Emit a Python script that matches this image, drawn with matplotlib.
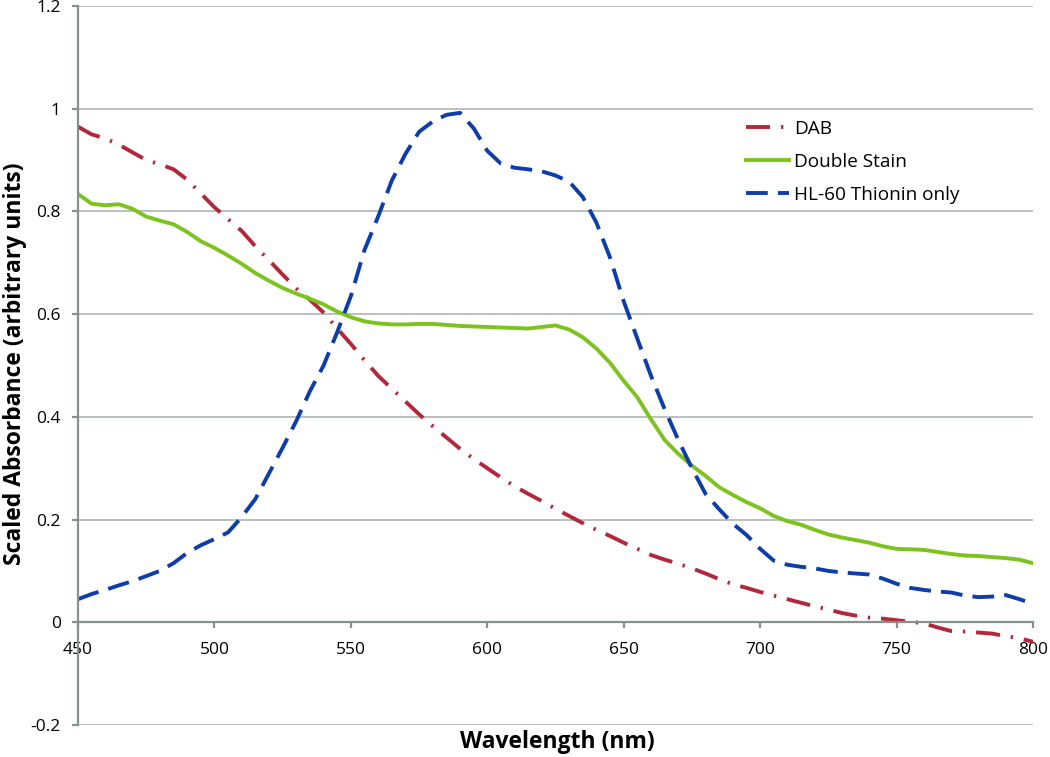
import matplotlib
matplotlib.use('Agg')
import matplotlib.pyplot as plt

# ---------------- data ----------------
wavelength = list(range(450, 801, 5))

dab = [0.965, 0.950, 0.942, 0.930, 0.915, 0.900, 0.892, 0.882, 0.862, 0.835,
       0.808, 0.785, 0.762, 0.732, 0.705, 0.677, 0.650, 0.628, 0.603, 0.572,
       0.542, 0.510, 0.480, 0.455, 0.430, 0.405, 0.382, 0.360, 0.338, 0.318,
       0.300, 0.282, 0.265, 0.250, 0.236, 0.221, 0.207, 0.193, 0.180, 0.168,
       0.155, 0.143, 0.131, 0.122, 0.114, 0.105, 0.095, 0.084, 0.074, 0.067,
       0.059, 0.052, 0.045, 0.038, 0.031, 0.025, 0.018, 0.013, 0.009, 0.007,
       0.004, 0.001, -0.002, -0.010, -0.017, -0.018, -0.020, -0.022, -0.027, -0.031,
       -0.038]

double_stain = [0.834, 0.815, 0.812, 0.814, 0.805, 0.790, 0.782, 0.775, 0.760, 0.742,
                0.729, 0.714, 0.698, 0.680, 0.665, 0.651, 0.640, 0.630, 0.619, 0.605,
                0.594, 0.586, 0.582, 0.580, 0.580, 0.581, 0.581, 0.579, 0.577, 0.576,
                0.575, 0.574, 0.573, 0.572, 0.575, 0.578, 0.570, 0.555, 0.533, 0.505,
                0.470, 0.438, 0.395, 0.355, 0.328, 0.305, 0.285, 0.263, 0.248, 0.234,
                0.222, 0.207, 0.197, 0.190, 0.180, 0.171, 0.165, 0.160, 0.155, 0.148,
                0.143, 0.142, 0.141, 0.137, 0.133, 0.130, 0.129, 0.127, 0.125, 0.122,
                0.115]

hl60 = [0.045, 0.055, 0.063, 0.072, 0.080, 0.090, 0.100, 0.115, 0.135, 0.150,
        0.162, 0.175, 0.205, 0.240, 0.290, 0.340, 0.392, 0.450, 0.500, 0.565,
        0.635, 0.725, 0.790, 0.860, 0.912, 0.955, 0.975, 0.988, 0.992, 0.962,
        0.918, 0.893, 0.885, 0.882, 0.878, 0.870, 0.858, 0.828, 0.778, 0.710,
        0.625, 0.552, 0.480, 0.415, 0.355, 0.300, 0.250, 0.220, 0.192, 0.170,
        0.143, 0.120, 0.112, 0.108, 0.105, 0.100, 0.097, 0.095, 0.093, 0.085,
        0.075, 0.067, 0.063, 0.060, 0.058, 0.052, 0.049, 0.050, 0.053, 0.045,
        0.036]

series_labels = ['DAB', 'Double Stain', 'HL-60 Thionin only']
x_ticks = [450, 500, 550, 600, 650, 700, 750, 800]
y_ticks = [-0.2, 0.0, 0.2, 0.4, 0.6, 0.8, 1.0, 1.2]
y_tick_labels = ['-0.2', '0', '0.2', '0.4', '0.6', '0.8', '1', '1.2']
x_label = 'Wavelength (nm)'
y_label = 'Scaled Absorbance (arbitrary units)'

# ---------------- styling ----------------
plt.rcParams['font.family'] = ['Open Sans', 'DejaVu Sans']
W, H = 1050, 757
fig = plt.figure(figsize=(W / 100, H / 100), dpi=100)
ax = fig.add_axes([78 / W, 1 - 725 / H, (1033 - 78) / W, (725 - 6) / H])

red = '#B2283A'
green = '#7DC31E'
blue = '#0C3DAA'
axis_grey = '#86908F'
grid_grey = '#B4BBBA'

lw = 2.8
ax.plot(wavelength, dab, color=red, lw=lw, linestyle=(0, (6.2, 2.8, 0.6, 2.8)),
        label=series_labels[0])
ax.plot(wavelength, double_stain, color=green, lw=lw, linestyle='-',
        label=series_labels[1])
ax.plot(wavelength, hl60, color=blue, lw=lw, linestyle=(0, (5.6, 2.6)),
        label=series_labels[2])

ax.set_xlim(450, 800)
ax.set_ylim(-0.2, 1.2)
ax.set_xticks(x_ticks)
ax.set_yticks(y_ticks)
ax.set_yticklabels(y_tick_labels)

ax.yaxis.grid(True, color=grid_grey, lw=1.3)
ax.xaxis.grid(False)
ax.set_axisbelow(True)

for s in ['top', 'right']:
    ax.spines[s].set_visible(False)
ax.spines['bottom'].set_position(('data', 0))
ax.spines['bottom'].set_color(axis_grey)
ax.spines['bottom'].set_linewidth(1.6)
ax.spines['left'].set_color(axis_grey)
ax.spines['left'].set_linewidth(1.6)

ax.tick_params(axis='x', direction='out', length=4.5, width=1.6, color=axis_grey,
               pad=9.5, labelsize=12.5, labelcolor='black')
ax.tick_params(axis='y', direction='out', length=4.5, width=1.6, color=axis_grey,
               pad=8, labelsize=12.5, labelcolor='black')

fig.text(557 / W, 1 - 742 / H, x_label, ha='center', va='center',
         fontsize=16.5, fontweight='bold')
fig.text(15 / W, 1 - 364 / H, y_label, ha='center', va='center',
         rotation=90, fontsize=16.5, fontweight='bold')

ax.legend(loc='upper left', bbox_to_anchor=(746 / W, 1 - 120 / H),
          bbox_transform=fig.transFigure, frameon=False, fontsize=13.7,
          handlelength=2.25, handletextpad=0.28, labelspacing=0.78,
          borderpad=0, borderaxespad=0)

fig.savefig('out.png', dpi=100)
